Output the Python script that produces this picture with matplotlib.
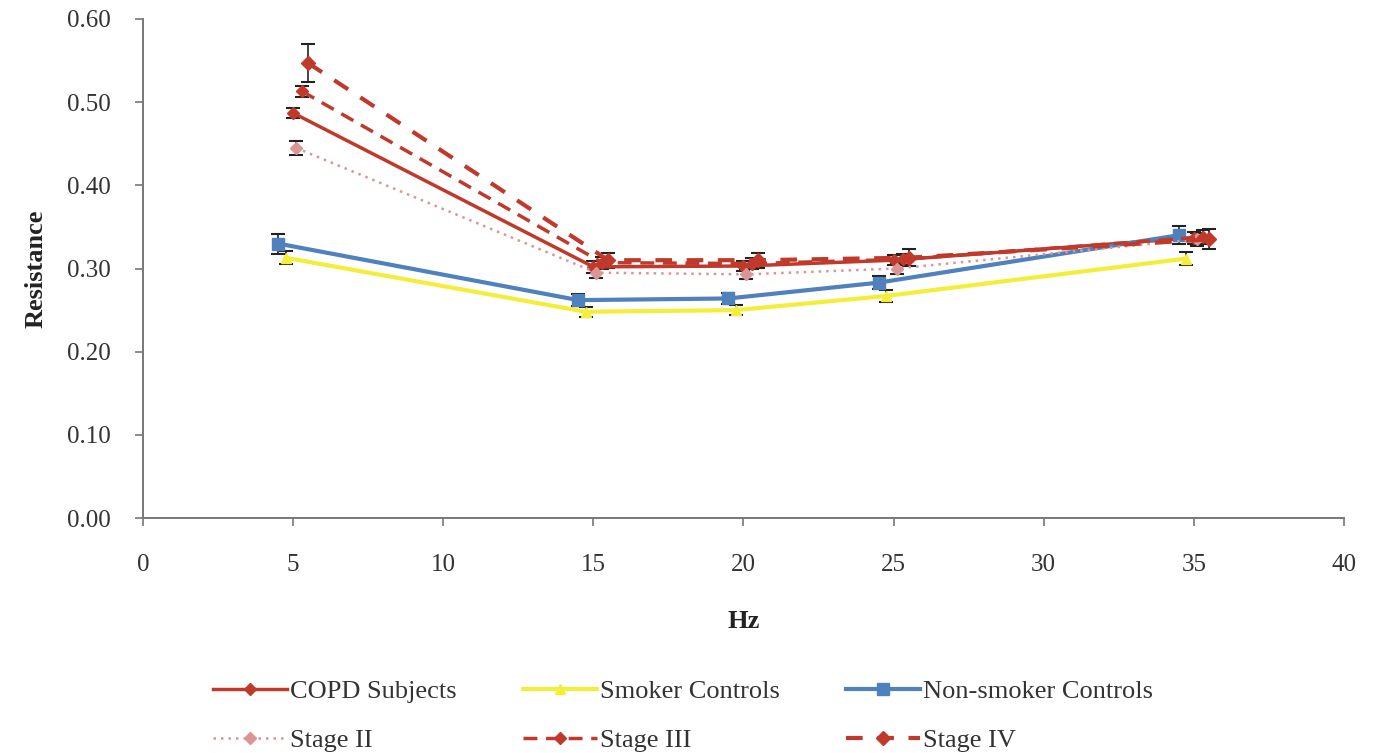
import matplotlib.pyplot as plt
from matplotlib.lines import Line2D

plt.rcParams['font.family'] = ['Liberation Serif', 'DejaVu Serif']

hz = [5, 15, 20, 25, 35]

copd = [0.487, 0.302, 0.303, 0.310, 0.337]
copd_err = [0.006, 0.007, 0.006, 0.006, 0.007]
smoker = [0.313, 0.248, 0.250, 0.267, 0.312]
smoker_err = [0.008, 0.006, 0.006, 0.007, 0.008]
nonsmoker = [0.330, 0.262, 0.264, 0.283, 0.340]
nonsmoker_err = [0.012, 0.007, 0.007, 0.008, 0.011]
stage2 = [0.445, 0.295, 0.293, 0.300, 0.335]
stage2_err = [0.008, 0.006, 0.006, 0.007, 0.008]
stage3 = [0.513, 0.307, 0.306, 0.311, 0.338]
stage3_err = [0.007, 0.007, 0.007, 0.007, 0.008]
stage4 = [0.547, 0.310, 0.310, 0.313, 0.335]
stage4_err = [0.023, 0.009, 0.009, 0.010, 0.012]

# small horizontal shifts so the error bars don't sit on top of each other
series = [
    ("COPD Subjects", copd, copd_err, 0.0, "#C0392B", "-", "D", 6, 2.5),
    ("Smoker Controls", smoker, smoker_err, -0.25, "#F2EE3A", "-", "^", 7, 3.0),
    ("Non-smoker Controls", nonsmoker, nonsmoker_err, -0.5, "#4F81BD", "-", "s", 8, 3.0),
    ("Stage II", stage2, stage2_err, 0.1, "#D99694", (0, (1, 2)), "D", 6, 1.8),
    ("Stage III", stage3, stage3_err, 0.3, "#C0392B", (0, (4, 2.5)), "D", 6, 2.5),
    ("Stage IV", stage4, stage4_err, 0.5, "#C0392B", (0, (4, 3.5)), "D", 7, 3.0),
]

fig = plt.figure(figsize=(13.84, 7.53), dpi=100)
ax = fig.add_axes([0.1033, 0.312, 0.8677, 0.6628])

handles = []
for label, vals, err, dx, color, ls, mk, ms, lw in series:
    xs = [h + dx for h in hz]
    ax.errorbar(xs, vals, yerr=err, color=color, linestyle=ls, linewidth=lw,
                marker=mk, markersize=ms, ecolor="#222222", elinewidth=1.2,
                capsize=5, capthick=1.5)
    handles.append(Line2D([], [], color=color, linestyle=ls, linewidth=lw,
                          marker=mk, markersize=ms, label=label))

ax.set_xlim(0, 40)
ax.set_ylim(0, 0.6)
ax.set_xticks(range(0, 41, 5))
ax.set_yticks([i / 10 for i in range(7)])
ax.set_yticklabels([f"{i / 10:.2f}" for i in range(7)])
ax.tick_params(labelsize=18, direction="out", length=6, width=1.2,
               color="#777777", labelcolor="#333333")
ax.tick_params(axis="x", pad=20)
ax.tick_params(axis="y", pad=17)
for s in ("top", "right"):
    ax.spines[s].set_visible(False)
for s in ("left", "bottom"):
    ax.spines[s].set_color("#777777")
    ax.spines[s].set_linewidth(1.4)

ax.set_xlabel("Hz", fontsize=19, fontweight="bold", labelpad=24, color="#222222")
ax.set_ylabel("Resistance", fontsize=19, fontweight="bold", labelpad=14, color="#222222")

order = [0, 3, 1, 4, 2, 5]
fig.legend([handles[i] for i in order], [handles[i].get_label() for i in order],
           loc="lower left", bbox_to_anchor=(0.137, -0.03), ncol=3, frameon=False,
           fontsize=19, handlelength=2.8, columnspacing=2.5, labelspacing=0.95,
           handletextpad=0.12, labelcolor="#333333")

fig.savefig("out.png", dpi=100)
